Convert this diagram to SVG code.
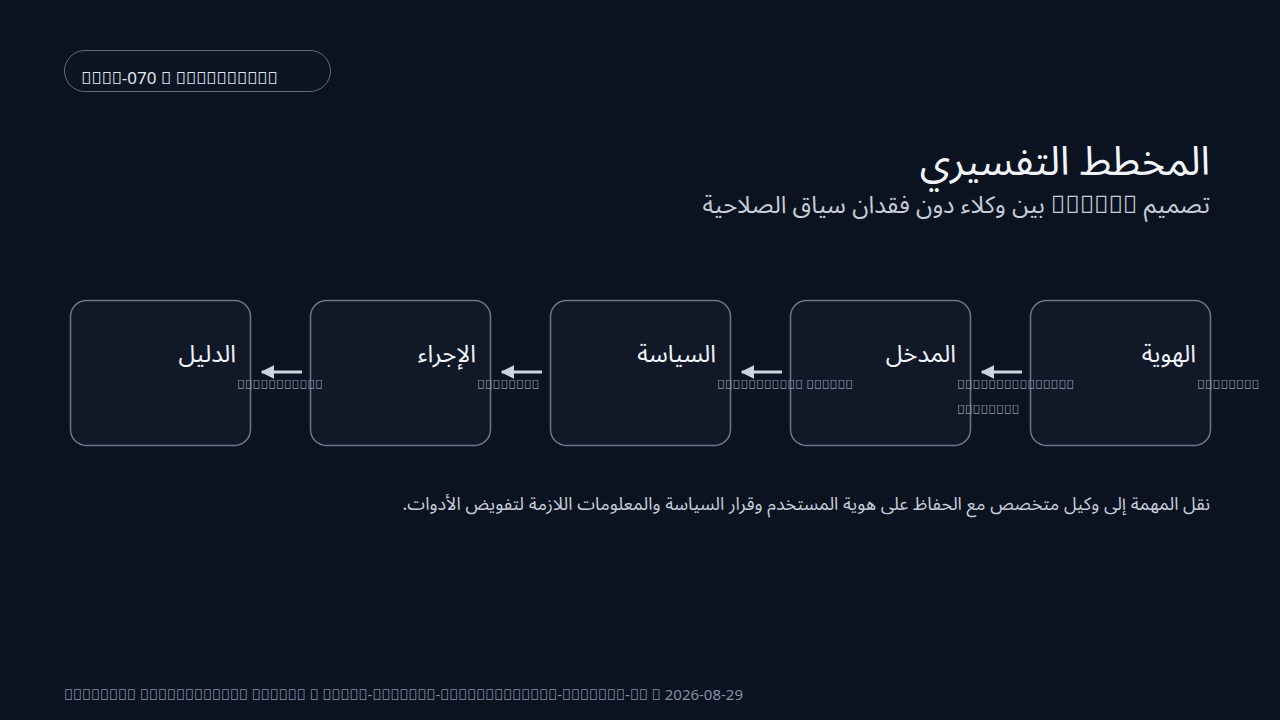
<svg xmlns="http://www.w3.org/2000/svg" width="1280" height="720" viewBox="0 0 1280 720">
<defs>
<style>
.bg{fill:#0b1220}
.pill{fill:#0d1424;stroke:#5f6b80;stroke-width:1}
.box{fill:#111827;stroke:#6b778c;stroke-width:1.5}
.t{font-family:"Noto Sans","Noto Sans Arabic","Noto Sans Arabic UI","Noto Naskh Arabic",sans-serif}
.ttl{font-size:40px;fill:#f1f5f9}
.sub{font-size:24px;fill:#c5cdd9}
.lbl{font-size:24px;fill:#f1f5f9}
.sl{font-size:13px;fill:#8e99ab}
.note{font-size:18px;fill:#c5cdd9}
.ft{font-size:15px;fill:#8490a4}
.pt{font-size:17px;fill:#e2e8f0}
.edge{stroke:#cbd5e1;stroke-width:3;fill:none}
</style>
<marker id="ah" viewBox="0 0 10 10" refX="9" refY="5" markerWidth="4.5" markerHeight="4.5" orient="auto-start-reverse" markerUnits="strokeWidth">
<path d="M0,0 L10,5 L0,10 z" fill="#cbd5e1"/>
</marker>
</defs>
<rect class="bg" x="0" y="0" width="1280" height="720"/>
<g id="badge">
<rect class="pill" x="64.5" y="50.5" width="266" height="41" rx="20.5"/>
<text class="t pt" x="81" y="84">&#xE000;&#xE000;&#xE000;&#xE000;-070 &#xE000; &#xE000;&#xE000;&#xE000;&#xE000;&#xE000;&#xE000;&#xE000;&#xE000;&#xE000;&#xE000;</text>
</g>
<g id="heading">
<text class="t ttl" x="1210" y="175" text-anchor="start" direction="rtl">المخطط التفسيري</text>
<text class="t sub" x="1210" y="213" text-anchor="start" direction="rtl">تصميم &#xE000;&#xE000;&#xE000;&#xE000;&#xE000;&#xE000; بين وكلاء دون فقدان سياق الصلاحية</text>
</g>
<g id="connectors">
<line class="edge" x1="1022" y1="372" x2="982" y2="372" marker-end="url(#ah)"/>
<line class="edge" x1="782" y1="372" x2="742" y2="372" marker-end="url(#ah)"/>
<line class="edge" x1="542" y1="372" x2="502" y2="372" marker-end="url(#ah)"/>
<line class="edge" x1="302" y1="372" x2="262" y2="372" marker-end="url(#ah)"/>
</g>
<g id="node-identity">
<rect class="box" x="1030.5" y="300.5" width="180" height="145" rx="16"/>
<text class="t lbl" x="1196" y="362" text-anchor="start" direction="rtl">الهوية</text>
<text class="t sl" x="1197" y="389">&#xE000;&#xE000;&#xE000;&#xE000;&#xE000;&#xE000;&#xE000;&#xE000;</text>
</g>
<g id="node-input">
<rect class="box" x="790.5" y="300.5" width="180" height="145" rx="16"/>
<text class="t lbl" x="956" y="362" text-anchor="start" direction="rtl">المدخل</text>
<text class="t sl" x="957" y="389">&#xE000;&#xE000;&#xE000;&#xE000;&#xE000;&#xE000;&#xE000;&#xE000;&#xE000;&#xE000;&#xE000;&#xE000;&#xE000;&#xE000;&#xE000;</text>
<text class="t sl" x="957" y="414">&#xE000;&#xE000;&#xE000;&#xE000;&#xE000;&#xE000;&#xE000;&#xE000;</text>
</g>
<g id="node-policy">
<rect class="box" x="550.5" y="300.5" width="180" height="145" rx="16"/>
<text class="t lbl" x="716" y="362" text-anchor="start" direction="rtl">السياسة</text>
<text class="t sl" x="717" y="389">&#xE000;&#xE000;&#xE000;&#xE000;&#xE000;&#xE000;&#xE000;&#xE000;&#xE000;&#xE000;&#xE000; &#xE000;&#xE000;&#xE000;&#xE000;&#xE000;&#xE000;</text>
</g>
<g id="node-action">
<rect class="box" x="310.5" y="300.5" width="180" height="145" rx="16"/>
<text class="t lbl" x="476" y="362" text-anchor="start" direction="rtl">الإجراء</text>
<text class="t sl" x="477" y="389">&#xE000;&#xE000;&#xE000;&#xE000;&#xE000;&#xE000;&#xE000;&#xE000;</text>
</g>
<g id="node-evidence">
<rect class="box" x="70.5" y="300.5" width="180" height="145" rx="16"/>
<text class="t lbl" x="236" y="362" text-anchor="start" direction="rtl">الدليل</text>
<text class="t sl" x="237" y="389">&#xE000;&#xE000;&#xE000;&#xE000;&#xE000;&#xE000;&#xE000;&#xE000;&#xE000;&#xE000;&#xE000;</text>
</g>
<g id="caption">
<text class="t note" x="1210" y="510" text-anchor="start" direction="rtl">نقل المهمة إلى وكيل متخصص مع الحفاظ على هوية المستخدم وقرار السياسة والمعلومات اللازمة لتفويض الأدوات.</text>
</g>
<g id="footer">
<text class="t ft" x="64" y="700">&#xE000;&#xE000;&#xE000;&#xE000;&#xE000;&#xE000;&#xE000;&#xE000; &#xE000;&#xE000;&#xE000;&#xE000;&#xE000;&#xE000;&#xE000;&#xE000;&#xE000;&#xE000;&#xE000;&#xE000; &#xE000;&#xE000;&#xE000;&#xE000;&#xE000;&#xE000; &#xE000; &#xE000;&#xE000;&#xE000;&#xE000;&#xE000;-&#xE000;&#xE000;&#xE000;&#xE000;&#xE000;&#xE000;&#xE000;-&#xE000;&#xE000;&#xE000;&#xE000;&#xE000;&#xE000;&#xE000;&#xE000;&#xE000;&#xE000;&#xE000;&#xE000;&#xE000;-&#xE000;&#xE000;&#xE000;&#xE000;&#xE000;&#xE000;&#xE000;-&#xE000;&#xE000; &#xE000; 2026-08-29</text>
</g>
</svg>
